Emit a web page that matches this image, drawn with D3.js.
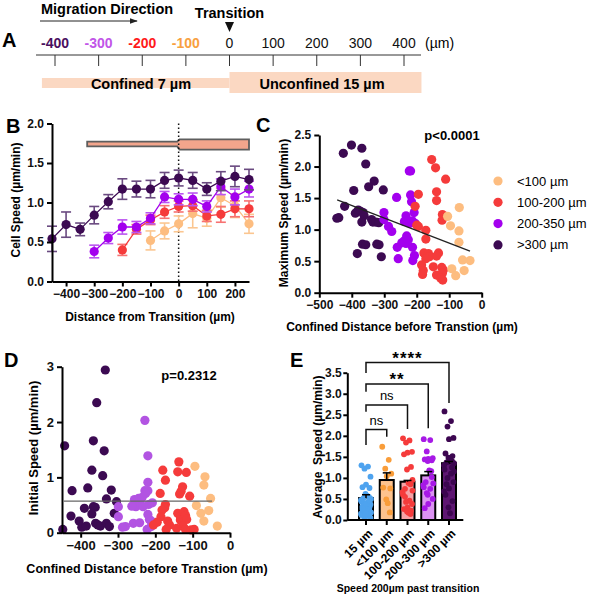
<!DOCTYPE html>
<html><head><meta charset="utf-8">
<script src="https://cdn.jsdelivr.net/npm/d3@7"></script>
<style>
body{margin:0;background:#fff}
svg{display:block}
text{font-family:"Liberation Sans",Arial,sans-serif}
</style></head><body>
<svg id="fig" width="591" height="597"></svg>
<script>
// ---------------- DATA ----------------
// Panel A schematic axis
const aTicks = [-400,-300,-200,-100,0,100,200,300,400];
const aBands = [{label:"Confined 7 µm", from:-430, to:0}, {label:"Unconfined 15 µm", from:0, to:440}];

// Panel B: cell speed vs distance from transition
const bDist = [-450,-400,-350,-300,-250,-200,-150,-100,-50,0,50,100,150,200,250];
const bOver300    = [0.54,0.72,0.66,0.84,1.01,1.17,1.17,1.17,1.28,1.31,1.28,1.17,1.27,1.33,1.29];
const bOver300Err = [0.16,0.16,0.08,0.11,0.09,0.13,0.10,0.11,0.10,0.10,0.10,0.08,0.12,0.13,0.13];
const b200to350    = [null,null,null,0.38,0.55,0.69,0.69,0.80,1.07,1.04,1.04,0.95,1.20,1.07,1.17];
const b200to350Err = [null,null,null,0.08,0.07,0.09,0.07,0.07,0.07,0.07,0.08,0.07,0.10,0.10,0.10];
const b100to200    = [null,null,null,null,null,0.40,0.66,0.78,0.88,0.95,0.96,0.83,0.85,0.92,0.92];
const b100to200Err = [null,null,null,null,null,0.07,0.06,0.06,0.08,0.07,0.07,0.07,0.10,0.10,0.10];
const bUnder100    = [null,null,null,null,null,null,null,0.52,0.64,0.73,0.86,0.80,1.06,0.96,0.73];
const bUnder100Err = [null,null,null,null,null,null,null,0.12,0.10,0.10,0.18,0.10,0.12,0.15,0.12];
const bYTicks = [0,0.5,1,1.5,2];
const bXTicks = [-400,-300,-200,-100,0,100,200];

// Panel C: maximum speed vs confined distance
const cOver300X = [-401,-369,-426,-357,-331,-348,-394,-303,-422,-446,-440,-389,-380,-373,-365,-362,-369,-339,-335,-326,-317,-367,-357,-323,-316,-383,-309];
const cOver300Y = [2.34,2.29,2.21,2.04,1.77,1.68,1.62,1.63,1.37,1.18,1.19,1.26,1.31,1.29,1.27,1.22,1.12,1.16,1.12,1.12,1.11,0.77,0.76,0.77,0.76,0.62,0.57];
const c200to350X = [-223,-219,-262,-219,-216,-208,-301,-301,-287,-277,-233,-238,-231,-221,-214,-205,-231,-239,-226,-233,-246,-260,-257,-213,-207,-212];
const c200to350Y = [1.93,1.93,1.51,1.55,1.44,1.27,1.27,1.16,1.05,0.97,1.22,1.13,1.13,1.10,1.14,1.10,0.90,0.82,0.84,0.78,0.79,0.72,0.54,0.72,0.59,0.51];
const c100to200X = [-154,-142,-111,-195,-139,-139,-121,-122,-205,-200,-195,-172,-172,-178,-164,-161,-172,-133,-139,-185,-180,-182,-149,-139,-123,-118,-121,-126,-120];
const c100to200Y = [2.11,1.98,1.80,1.56,1.60,1.46,1.24,1.15,1.37,1.07,1.05,0.99,0.85,0.63,0.62,0.57,0.54,0.63,0.58,0.44,0.35,0.29,0.41,0.28,0.40,0.36,0.31,0.23,0.20];
const cUnder100X = [-69,-105,-96,-70,-70,-59,-36,-92,-80,-54];
const cUnder100Y = [1.35,1.21,1.06,0.98,0.80,0.52,0.51,0.38,0.27,0.35];
const cFit = {x:[-445,-36], y:[1.47,0.66]};
const cLegend = ["<100 µm","100-200 µm","200-350 µm",">300 µm"];
const cXTicks = [-500,-400,-300,-200,-100,0];
const cYTicks = [0,0.5,1,1.5,2,2.5];

// Panel D: initial speed vs confined distance
const dOver300X = [-334,-357,-443,-366,-337,-370,-341,-423,-381,-318,-331,-304,-390,-361,-366,-370,-310,-426,-404,-397,-385,-360,-354,-347,-331,-323,-448];
const dOver300Y = [2.94,2.35,1.57,1.66,1.48,1.13,1.03,0.76,0.81,0.77,0.61,0.56,0.44,0.46,0.47,0.34,0.35,0.30,0.21,0.10,0.12,0.17,0.14,0.12,0.17,0.11,0.06];
const d200to350X = [-228,-220,-220,-228,-220,-226,-256,-241,-252,-218,-208,-263,-299,-299,-259,-280,-288,-220,-216,-211,-205,-211,-242,-222,-233,-245,-235];
const d200to350Y = [2.03,1.39,0.91,0.76,0.76,0.71,0.60,0.56,0.47,0.51,0.54,0.48,0.47,0.29,0.17,0.11,0.10,0.33,0.24,0.21,0.17,0.11,0.18,0.06,0.47,0.62,0.64];
const d100to200X = [-137,-180,-140,-117,-173,-187,-127,-135,-131,-108,-173,-175,-182,-185,-195,-205,-167,-162,-171,-140,-133,-133,-123,-119,-116,-126,-119,-104,-96,-143];
const d100to200Y = [1.28,1.13,1.10,1.09,0.95,0.71,0.83,0.70,0.75,0.66,0.51,0.45,0.41,0.29,0.19,0.14,0.21,0.14,0.06,0.35,0.29,0.23,0.38,0.31,0.24,0.12,0.06,0.05,0.06,0.08];
const dUnder100X = [-94,-67,-70,-52,-90,-78,-57,-70,-34];
const dUnder100Y = [1.20,1.01,0.86,0.62,0.49,0.35,0.40,0.21,0.12];
const dMean = {x:[-445,-48], y:0.57};
const dXTicks = [-400,-300,-200,-100,0];
const dYTicks = [0,1,2,3];

// Panel E: average speed 200 µm past transition
const eGroups = ["15 µm","<100 µm","100-200 µm","200-300 µm",">300 µm"];
const eMeans = [0.52,0.95,0.91,1.06,1.35];
const eSem   = [0.08,0.17,0.03,0.09,0.04];
const e15um     = [1.30,1.27,1.22,1.03,0.84,0.78,0.76,0.62,0.58,0.55,0.52,0.50,0.47,0.44,0.42,0.40,0.37,0.35,0.32,0.30,0.28,0.25,0.22,0.20,0.18,0.15,0.12,0.10,0.07,0.05,0.38,0.27,0.45,0.16];
const eUnder100 = [1.74,1.43,1.22,1.10,1.04,0.77,0.75,0.49,0.40,0.18];
const e100to200 = [1.94,1.89,1.84,1.62,1.60,1.56,1.26,1.20,0.88,0.85,0.74,0.70,0.66,0.60,0.46,0.43,0.38,0.30,0.26,0.22,0.20,0.17,0.14,0.55,0.95];
const e200to300 = [1.92,1.90,1.63,1.47,1.45,1.44,1.42,1.40,1.18,1.16,0.90,0.87,0.83,0.78,0.74,0.64,0.50,0.38,0.28,1.02,0.60];
const eOver300  = [2.58,2.35,2.22,1.95,1.92,1.58,1.52,1.48,1.45,1.40,1.37,1.35,1.30,1.20,1.10,1.00,0.90,0.75,0.60,0.45,0.30,0.16,1.25,0.85,1.15,0.68];
const eComparisons = [
  {a:0,b:1,label:"ns",top:2.15,legA:1.78,legB:1.98},
  {a:0,b:2,label:"ns",top:2.73,legA:2.57,legB:2.16},
  {a:0,b:3,label:"**",top:3.23,legA:3.05,legB:2.18},
  {a:0,b:4,label:"****",top:3.74,legA:3.49,legB:2.78}
];
const eYTicks = [0,0.5,1,1.5,2,2.5,3,3.5];

// ---------------- STYLE ----------------
const col = {
  dark:"#3c0a52", purple:"#a300ee", red:"#f53b3b", orange:"#fdbd80",
  darkErr:"#6a4a80", purpleErr:"#bb55f0", redErr:"#f77272", orangeErr:"#fbc690",
  dPurple:"#b254e2"
};
const svg = d3.select("#fig");
const FONT = '"Liberation Sans",Arial,sans-serif';

function styleAxis(g, fs){
  g.selectAll("path.domain").attr("stroke","#000").attr("stroke-width",2);
  g.selectAll(".tick line").attr("stroke","#000").attr("stroke-width",2);
  g.selectAll(".tick text").attr("font-family",FONT).attr("font-weight","bold").attr("font-size",fs).attr("fill","#111");
}
function panelLetter(t,x,y){
  svg.append("text").attr("x",x).attr("y",y).attr("font-size",20).attr("font-weight","bold").text(t);
}

// ---------------- PANEL A ----------------
panelLetter("A",2,47);
const xA = d3.scaleLinear([-400,400],[55,404]);
const aCol = {"-400":"#4a0f60","-300":"#c155e8","-200":"#ff1a1a","-100":"#f8a040"};
const gA = svg.append("g").attr("font-family","Lato,'Open Sans',sans-serif");
gA.append("text").attr("x",41).attr("y",14).attr("font-size",14.5).attr("font-weight","bold").attr("font-family","Lato,sans-serif").text("Migration Direction");
svg.append("defs").append("marker").attr("id","arr").attr("viewBox","0 0 10 10").attr("refX",9).attr("refY",5)
  .attr("markerWidth",8).attr("markerHeight",8).attr("orient","auto")
  .append("path").attr("d","M0,1.5 L10,5 L0,8.5 Z").attr("fill","#222");
gA.append("line").attr("x1",40).attr("x2",137).attr("y1",21).attr("y2",21).attr("stroke","#222").attr("stroke-width",1).attr("marker-end","url(#arr)");
gA.append("text").attr("x",xA(0)).attr("y",18).attr("text-anchor","middle").attr("font-size",14.5).attr("font-weight","bold").attr("font-family","Lato,sans-serif").text("Transition");
gA.append("path").attr("d",`M${xA(0)-4.5},22 L${xA(0)+4.5},22 L${xA(0)},32 Z`).attr("fill","#111");
gA.selectAll("text.at").data(aTicks).join("text").attr("class","at")
  .attr("x",d=>xA(d)).attr("y",48).attr("text-anchor","middle").attr("font-family","Lato,sans-serif")
  .attr("font-size",14).attr("font-weight",d=>aCol[d]?"bold":"normal").attr("fill",d=>aCol[d]||"#111").text(d=>d);
gA.append("text").attr("x",425).attr("y",48).attr("font-size",14).attr("font-family","Lato,sans-serif").text("(µm)");
gA.append("line").attr("x1",36).attr("x2",421).attr("y1",55).attr("y2",55).attr("stroke","#333").attr("stroke-width",1);
gA.selectAll("line.tk").data(aTicks).join("line").attr("class","tk").attr("x1",d=>xA(d)).attr("x2",d=>xA(d)).attr("y1",55).attr("y2",66).attr("stroke","#333").attr("stroke-width",1);
const bandY = [{y0:78,y1:88},{y0:72,y1:93}];
aBands.forEach((b,i)=>{
  gA.append("rect").attr("x",xA(b.from)).attr("width",xA(b.to)-xA(b.from)).attr("y",bandY[i].y0).attr("height",bandY[i].y1-bandY[i].y0).attr("fill","#fbd8c2");
});
gA.append("text").attr("x",141).attr("y",89).attr("text-anchor","middle").attr("font-size",14.5).attr("font-weight","bold").attr("font-family","Lato,sans-serif").text(aBands[0].label);
gA.append("text").attr("x",322).attr("y",89).attr("text-anchor","middle").attr("font-size",14.5).attr("font-weight","bold").attr("font-family","Lato,sans-serif").text(aBands[1].label);

// ---------------- PANEL B ----------------
panelLetter("B",6,133);
const xB = d3.scaleLinear([-450,250],[52,249]);
const yB = d3.scaleLinear([0,2],[281.5,123.5]);
const gB = svg.append("g");
// channel schematic
gB.append("path").attr("d",`M${xB(-325)},${yB(1.77)} L${xB(-5)},${yB(1.77)} L${xB(3)},${yB(1.80)} L${xB(250)},${yB(1.80)} L${xB(250)},${yB(1.67)} L${xB(3)},${yB(1.67)} L${xB(-5)},${yB(1.71)} L${xB(-325)},${yB(1.71)} Z`)
  .attr("fill","#f3a58c").attr("stroke","#5e5e5e").attr("stroke-width",1.8);
// dotted transition line
gB.append("line").attr("x1",xB(0)).attr("x2",xB(0)).attr("y1",yB(2)).attr("y2",yB(0)).attr("stroke","#111").attr("stroke-width",1.5).attr("stroke-dasharray","1.5,2.5");
const bSeries = [
  {v:bUnder100,e:bUnder100Err,c:col.orange,ec:col.orangeErr},
  {v:b100to200,e:b100to200Err,c:col.red,ec:col.redErr},
  {v:b200to350,e:b200to350Err,c:col.purple,ec:col.purpleErr},
  {v:bOver300,e:bOver300Err,c:col.dark,ec:col.darkErr}
];
bSeries.forEach(s=>{
  const pts = bDist.map((d,i)=>({x:d,y:s.v[i],e:s.e[i]})).filter(p=>p.y!=null);
  const g = gB.append("g");
  const eb = g.selectAll("g.eb").data(pts).join("g");
  eb.append("line").attr("x1",p=>xB(p.x)).attr("x2",p=>xB(p.x)).attr("y1",p=>yB(p.y-p.e)).attr("y2",p=>yB(p.y+p.e)).attr("stroke",s.ec).attr("stroke-width",1.6);
  eb.append("line").attr("x1",p=>xB(p.x)-5).attr("x2",p=>xB(p.x)+5).attr("y1",p=>yB(p.y+p.e)).attr("y2",p=>yB(p.y+p.e)).attr("stroke",s.ec).attr("stroke-width",1.6);
  eb.append("line").attr("x1",p=>xB(p.x)-5).attr("x2",p=>xB(p.x)+5).attr("y1",p=>yB(p.y-p.e)).attr("y2",p=>yB(p.y-p.e)).attr("stroke",s.ec).attr("stroke-width",1.6);
  g.append("path").datum(pts).attr("d",d3.line().x(p=>xB(p.x)).y(p=>yB(p.y))).attr("fill","none").attr("stroke",s.c).attr("stroke-width",1.3);
  g.selectAll("circle").data(pts).join("circle").attr("cx",p=>xB(p.x)).attr("cy",p=>yB(p.y)).attr("r",4.6).attr("fill",s.c);
});
const axBy = gB.append("g").attr("transform",`translate(${xB(-450)},0)`).call(d3.axisLeft(yB).tickValues(bYTicks).tickFormat(d3.format(".1f")).tickSize(5).tickSizeOuter(0));
styleAxis(axBy,12);
const axBx = gB.append("g").attr("transform",`translate(0,${yB(0)})`).call(d3.axisBottom(xB).tickValues(bXTicks).tickSize(5).tickSizeOuter(0));
styleAxis(axBx,12);
gB.append("text").attr("x",150).attr("y",321).attr("text-anchor","middle").attr("font-size",12).attr("font-weight","bold").text("Distance from Transition (µm)");
gB.append("text").attr("transform","translate(20,200) rotate(-90)").attr("text-anchor","middle").attr("font-size",12).attr("font-weight","bold").text("Cell Speed (µm/min)");

// ---------------- PANEL C ----------------
panelLetter("C",256,132);
const xC = d3.scaleLinear([-500,0],[319.3,481.7]);
const yC = d3.scaleLinear([0,2.5],[292.7,135]);
const gC = svg.append("g");
const cSeries = [
  {x:cOver300X,y:cOver300Y,c:col.dark},
  {x:c200to350X,y:c200to350Y,c:col.purple},
  {x:c100to200X,y:c100to200Y,c:col.red},
  {x:cUnder100X,y:cUnder100Y,c:col.orange}
];
cSeries.forEach(s=>{
  gC.append("g").selectAll("circle").data(s.x.map((x,i)=>[x,s.y[i]])).join("circle")
    .attr("cx",d=>xC(d[0])).attr("cy",d=>yC(d[1])).attr("r",4.6).attr("fill",s.c);
});
gC.append("line").attr("x1",xC(cFit.x[0])).attr("x2",xC(cFit.x[1])).attr("y1",yC(cFit.y[0])).attr("y2",yC(cFit.y[1])).attr("stroke","#222").attr("stroke-width",1.3);
const axCy = gC.append("g").attr("transform",`translate(${xC(-500)},0)`).call(d3.axisLeft(yC).tickValues(cYTicks).tickFormat(d3.format(".1f")).tickSize(5).tickSizeOuter(0));
styleAxis(axCy,12);
const axCx = gC.append("g").attr("transform",`translate(0,${yC(0)})`).call(d3.axisBottom(xC).tickValues(cXTicks).tickSize(5).tickSizeOuter(0));
styleAxis(axCx,12);
gC.append("text").attr("x",452).attr("y",140).attr("text-anchor","middle").attr("font-size",13).attr("font-weight","bold").text("p<0.0001");
gC.append("text").attr("transform","translate(288,213) rotate(-90)").attr("text-anchor","middle").attr("font-size",12).attr("font-weight","bold").text("Maximum Speed (µm/min)");
gC.append("text").attr("x",402).attr("y",331).attr("text-anchor","middle").attr("font-size",12).attr("font-weight","bold").text("Confined Distance before Transtion (µm)");
const legCols = [col.orange,col.red,col.purple,col.dark];
const lg = gC.selectAll("g.lg").data(cLegend).join("g").attr("transform",(d,i)=>`translate(498,${181+i*21.3})`);
lg.append("circle").attr("r",4.6).attr("fill",(d,i)=>legCols[i]);
lg.append("text").attr("x",19).attr("y",4.5).attr("font-size",13).text(d=>d);

// ---------------- PANEL D ----------------
panelLetter("D",4,367);
const xD = d3.scaleLinear([-450,0],[62,230]);
const yD = d3.scaleLinear([0,3],[532.7,366.7]);
const gD = svg.append("g");
const dSeries = [
  {x:dOver300X,y:dOver300Y,c:col.dark},
  {x:d200to350X,y:d200to350Y,c:col.dPurple},
  {x:d100to200X,y:d100to200Y,c:col.red},
  {x:dUnder100X,y:dUnder100Y,c:col.orange}
];
dSeries.forEach(s=>{
  gD.append("g").selectAll("circle").data(s.x.map((x,i)=>[x,s.y[i]])).join("circle")
    .attr("cx",d=>xD(d[0])).attr("cy",d=>yD(d[1])).attr("r",4.6).attr("fill",s.c);
});
gD.append("line").attr("x1",xD(dMean.x[0])).attr("x2",xD(dMean.x[1])).attr("y1",yD(dMean.y)).attr("y2",yD(dMean.y)).attr("stroke","#666").attr("stroke-width",1.4);
const axDy = gD.append("g").attr("transform",`translate(${xD(-450)},0)`).call(d3.axisLeft(yD).tickValues(dYTicks).tickFormat(d3.format("d")).tickSize(5).tickSizeOuter(0));
styleAxis(axDy,13);
const axDx = gD.append("g").attr("transform",`translate(0,${yD(0)})`).call(d3.axisBottom(xD).tickValues(dXTicks).tickSize(5).tickSizeOuter(0));
styleAxis(axDx,13);
gD.append("text").attr("x",189).attr("y",380).attr("text-anchor","middle").attr("font-size",13).attr("font-weight","bold").text("p=0.2312");
gD.append("text").attr("transform","translate(38,448) rotate(-90)").attr("text-anchor","middle").attr("font-size",13).attr("font-weight","bold").text("Initial Speed (µm/min)");
gD.append("text").attr("x",147).attr("y",573).attr("text-anchor","middle").attr("font-size",12.5).attr("font-weight","bold").text("Confined Distance before Transtion (µm)");

// ---------------- PANEL E ----------------
panelLetter("E",290,367);
const xE = d3.scalePoint(eGroups,[366,449]);
const yE = d3.scaleLinear([0,3.5],[520,372.7]);
const gE = svg.append("g");
const eFill = ["#a9d0f4","#fdc38e","#f6a2a6","#db92f2","#5e1672"];
const eDot  = ["#4ea3ef","#f99d3a","#f53b3b","#a719e6","#3c0650"];
const ePts = [e15um,eUnder100,e100to200,e200to300,eOver300];
const BW = 14;
gE.selectAll("rect.bar").data(eMeans).join("rect").attr("class","bar")
  .attr("x",(d,i)=>xE(eGroups[i])-BW/2).attr("width",BW).attr("y",d=>yE(d)).attr("height",d=>yE(0)-yE(d))
  .attr("fill",(d,i)=>eFill[i]).attr("stroke","#000").attr("stroke-width",2);
const jit = [-4.5,2,-1.5,4.5,0,-3.5,3.5,-0.5,1,3,-2.5,5,-5];
ePts.forEach((arr,gi)=>{
  gE.append("g").selectAll("circle").data(arr).join("circle")
    .attr("cx",(d,i)=>xE(eGroups[gi])+jit[i%jit.length]).attr("cy",d=>yE(d)).attr("r",2.9).attr("fill",eDot[gi]);
});
eMeans.forEach((m,i)=>{
  const x = xE(eGroups[i]);
  gE.append("line").attr("x1",x).attr("x2",x).attr("y1",yE(m)).attr("y2",yE(m+eSem[i])).attr("stroke","#000").attr("stroke-width",1.5);
  gE.append("line").attr("x1",x-4).attr("x2",x+4).attr("y1",yE(m+eSem[i])).attr("y2",yE(m+eSem[i])).attr("stroke","#000").attr("stroke-width",1.5);
});
eComparisons.forEach(c=>{
  const xa = xE(eGroups[c.a]), xb = xE(eGroups[c.b]);
  gE.append("path").attr("d",`M${xa},${yE(c.legA)} L${xa},${yE(c.top)} L${xb},${yE(c.top)} L${xb},${yE(c.legB)}`)
    .attr("fill","none").attr("stroke","#111").attr("stroke-width",1.5);
  const star = c.label!=="ns";
  gE.append("text").attr("x",(xa+xb)/2).attr("y",yE(c.top)-(star?-1:5)).attr("text-anchor","middle")
    .attr("font-size",star?17:13).attr("font-weight",star?"bold":"normal").attr("letter-spacing",star?1:0).text(c.label);
});
const axEy = gE.append("g").attr("transform",`translate(347.3,0)`).call(d3.axisLeft(yE).tickValues(eYTicks).tickFormat(d3.format(".1f")).tickSize(4).tickPadding(1.5).tickSizeOuter(0));
styleAxis(axEy,12);
const axEx = gE.append("g").attr("transform",`translate(0,${yE(0)})`);
axEx.append("line").attr("x1",347.3).attr("x2",463.3).attr("stroke","#000").attr("stroke-width",2);
axEx.selectAll("line.t").data(eGroups).join("line").attr("class","t").attr("x1",d=>xE(d)).attr("x2",d=>xE(d)).attr("y1",0).attr("y2",5).attr("stroke","#000").attr("stroke-width",2);
axEx.selectAll("text").data(eGroups).join("text").attr("transform",d=>`translate(${xE(d)+3},${10}) rotate(-45)`)
  .attr("text-anchor","end").attr("font-size",12).attr("font-weight","bold").attr("dy","0.5em").text(d=>d);
gE.append("text").attr("transform","translate(322,447) rotate(-90)").attr("text-anchor","middle").attr("font-size",12).attr("font-weight","bold").attr("xml:space","preserve").text("Average  Speed (µm/min)");
gE.append("text").attr("x",408).attr("y",592).attr("text-anchor","middle").attr("font-size",10.5).attr("font-weight","bold").text("Speed 200µm past transition");
</script>
</body></html>
